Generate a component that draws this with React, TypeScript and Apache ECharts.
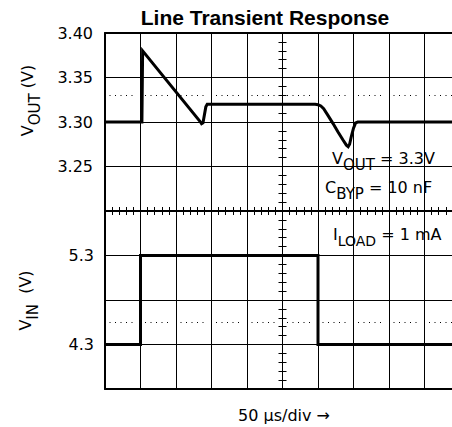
import React, { useEffect, useRef } from "react";
import * as echarts from "echarts";

// ---- data (time in µs, values in V) ----
const timeMin = 0;
const timeMax = 500;
const timeDiv = 50;

const voutTime = [0, 52, 53, 134, 136, 138, 140, 142, 144, 296, 300, 304, 308, 314, 321, 328, 335, 340, 342.5, 344.5, 347, 350, 353, 356, 500];
const voutValue = [3.3, 3.3, 3.38, 3.3005, 3.298, 3.299, 3.308, 3.317, 3.32, 3.32, 3.3195, 3.318, 3.315, 3.3075, 3.2985, 3.289, 3.28, 3.274, 3.2722, 3.275, 3.284, 3.293, 3.299, 3.3, 3.3];

const vinTime = [0, 50, 50, 300, 300, 500];
const vinValue = [4.3, 4.3, 5.3, 5.3, 4.3, 4.3];

const voutTickLabels = [3.4, 3.35, 3.3, 3.25];
const vinTickLabels = [5.3, 4.3];
const vinGridValues = [3.8, 4.3, 4.8, 5.3, 5.8];
const voutRefLevel = [3.325];
const vinRefLevel = [4.55];

// graticule divisions inside the frame
const gridTimes = [50, 100, 150, 200, 250, 300, 350, 400, 450];
const voutGridLevels = [3.25, 3.3, 3.35];
const vinGridLevels = [4.3, 4.8, 5.3];

const FONT = "DejaVu Sans";
const BLACK = "#000";
const GRID_W = 355;
const GRID_H = 178;

type Part = [string, boolean];

let measureCtx: CanvasRenderingContext2D | null = null;
function textWidth(text: string, size: number): number {
  if (!measureCtx) measureCtx = document.createElement("canvas").getContext("2d");
  if (!measureCtx) return text.length * size * 0.6;
  measureCtx.font = `${size}px "${FONT}"`;
  return measureCtx.measureText(text).width;
}

// plain-text pieces laid out one after another; subscripts shifted down
function textRun(parts: Part[], x: number, y: number, rotated: boolean, z: number, mainSize = 16, subSize = 15, subDrop = 7) {
  const widths = parts.map(([t, sub]) => textWidth(t, sub ? subSize : mainSize));
  const total = widths.reduce((a, b) => a + b, 0);
  let pos = 0;
  return parts.map(([t, sub], i) => {
    const start = pos;
    pos += widths[i];
    const fontSize = sub ? subSize : mainSize;
    const drop = sub ? subDrop : 0;
    const el: any = {
      type: "text",
      z,
      silent: true,
      style: { text: t, fontFamily: FONT, fontSize, fill: BLACK, align: "left", verticalAlign: "middle" },
    };
    if (rotated) {
      el.x = x + drop;
      el.y = y + total / 2 - start;
      el.rotation = Math.PI / 2;
    } else {
      el.x = x + start;
      el.y = y + drop;
    }
    return el;
  });
}

export default function App() {
  const ref = useRef<HTMLDivElement>(null);

  useEffect(() => {
    if (!ref.current) return;
    const chart = echarts.init(ref.current, undefined, { renderer: "svg" });

    const dotted = { color: BLACK, width: 1, type: [1, 4.5, 1, 4.5, 1, 4.5, 1, 4.5, 1, 12.5], dashOffset: 30.5 };
    const solid = { color: BLACK, width: 1, type: "solid" };
    const border = (show: boolean) => ({ show, onZero: false, lineStyle: { color: BLACK, width: 2 } });

    const centerTickAxis = (gridIndex: number, min: number, max: number, interval: number, inside: boolean) => ({
      type: "value", gridIndex, min, max, interval, position: "left", offset: -GRID_W / 2,
      axisLine: { show: false, onZero: false },
      axisTick: { show: true, inside, length: 4, lineStyle: { color: BLACK, width: 1 } },
      axisLabel: { show: false }, splitLine: { show: false },
    });
    const xAxisFor = (gridIndex: number, position: string, lineShow: boolean) => ({
      type: "value", gridIndex, min: timeMin, max: timeMax, interval: timeDiv, position,
      axisLine: border(lineShow),
      axisTick: { show: true, inside: true, length: 4, lineStyle: { color: BLACK, width: 1 } },
      minorTick: { show: true, splitNumber: 5, length: 4, lineStyle: { color: BLACK, width: 1 } },
      axisLabel: { show: false }, splitLine: { show: false },
    });
    const frameAxis = (gridIndex: number, position: string) => ({
      type: "value", gridIndex, min: timeMin, max: timeMax, position,
      axisLine: border(true), axisTick: { show: false }, axisLabel: { show: false }, splitLine: { show: false },
    });
    const whiteBox = (x: number, y: number, width: number, height: number) => ({
      type: "rect", z: 4, silent: true, shape: { x, y, width, height }, style: { fill: "#fff", stroke: "none" },
    });
    const graticule = (levels: number[], refLevels: number[]) => [
      ...gridTimes.map((t) => ({ xAxis: t, lineStyle: solid })),
      ...levels.map((v) => ({ yAxis: v, lineStyle: solid })),
      ...refLevels.map((v) => ({ yAxis: v, lineStyle: dotted })),
    ];

    const option: any = {
      animation: false,
      backgroundColor: "#fff",
      grid: [
        { left: 105, right: -8, top: 33, height: GRID_H, show: false, outerBoundsMode: "none", containLabel: false },
        { left: 105, right: -8, top: 211, height: GRID_H, show: false, outerBoundsMode: "none", containLabel: false },
      ],
      xAxis: [xAxisFor(0, "bottom", true), xAxisFor(1, "top", false), frameAxis(0, "top"), frameAxis(1, "bottom")],
      yAxis: [
        {
          type: "value", gridIndex: 0, min: 3.2, max: 3.4, interval: 0.05, position: "left",
          axisLine: border(true), axisTick: { show: false },
          axisLabel: {
            show: true, color: BLACK, fontFamily: FONT, fontSize: 16, margin: 12, padding: [5, 0, 0, 0],
            formatter: (v: number) => (voutTickLabels.some((t) => Math.abs(t - v) < 1e-6) ? v.toFixed(2) : ""),
          },
          splitLine: { show: false },
        },
        centerTickAxis(0, 3.2, 3.4, 0.01, false),
        centerTickAxis(0, 3.2, 3.4, 0.01, true),
        {
          type: "value", gridIndex: 1, min: 3.8, max: 5.8, position: "left",
          axisLine: border(true), axisTick: { show: false, customValues: vinGridValues },
          axisLabel: {
            show: true, customValues: vinTickLabels, color: BLACK, fontFamily: FONT, fontSize: 16, margin: 11, padding: [3, 0, 0, 0],
            formatter: (v: number) => v.toFixed(1),
          },
          splitLine: { show: false },
        },
        centerTickAxis(1, 3.8, 5.8, 0.1, false),
        centerTickAxis(1, 3.8, 5.8, 0.1, true),
      ],
      series: [
        {
          name: "VOUT", type: "line", xAxisIndex: 0, yAxisIndex: 0,
          data: voutTime.map((t, i) => [t, voutValue[i]]), symbol: "none", showSymbol: false,
          lineStyle: { color: BLACK, width: 3, join: "miter", cap: "butt" },
          markLine: {
            silent: true, symbol: ["none", "none"], label: { show: false }, lineStyle: solid,
            emphasis: { disabled: true },
            data: graticule(voutGridLevels, voutRefLevel),
          },
          z: 3,
        },
        {
          name: "VIN", type: "line", xAxisIndex: 1, yAxisIndex: 3,
          data: vinTime.map((t, i) => [t, vinValue[i]]), symbol: "none", showSymbol: false,
          lineStyle: { color: BLACK, width: 3, join: "miter", cap: "butt" },
          markLine: {
            silent: true, symbol: ["none", "none"], label: { show: false }, lineStyle: solid,
            emphasis: { disabled: true },
            data: graticule(vinGridLevels, vinRefLevel),
          },
          z: 3,
        },
      ],
      graphic: [
        {
          type: "text", x: 265, y: 17, z: 5,
          style: { text: "Line Transient Response", fontFamily: "Liberation Sans", fontWeight: "bold", fontSize: 21, fill: BLACK, align: "center", verticalAlign: "middle" },
        },
        ...textRun([["V", false], ["OUT", true], [" (V)", false]], 27.5, 100.5, true, 5),
        ...textRun([["V", false], ["IN", true], ["  (V)", false]], 25.5, 300.5, true, 5),
        whiteBox(329, 149.5, 110, 23.5),
        whiteBox(322, 176, 117, 27),
        whiteBox(330, 224, 110, 26),
        ...textRun([["V", false], ["OUT", true], [" = 3.3V", false]], 332, 158, false, 6),
        ...textRun([["C", false], ["BYP", true], [" = 10 nF", false]], 325, 187, false, 6),
        ...textRun([["I", false], ["LOAD", true], [" = 1 mA", false]], 333, 234, false, 6, 16, 14),
        {
          type: "text", x: 284, y: 415.5, z: 5,
          style: { text: "50 µs/div →", fontFamily: FONT, fontSize: 16, fill: BLACK, align: "center", verticalAlign: "middle" },
        },
      ],
    };

    chart.setOption(option);
    return () => chart.dispose();
  }, []);

  return <div ref={ref} style={{ position: "fixed", left: 0, top: 0, width: 452, height: 427, background: "#fff" }} />;
}
